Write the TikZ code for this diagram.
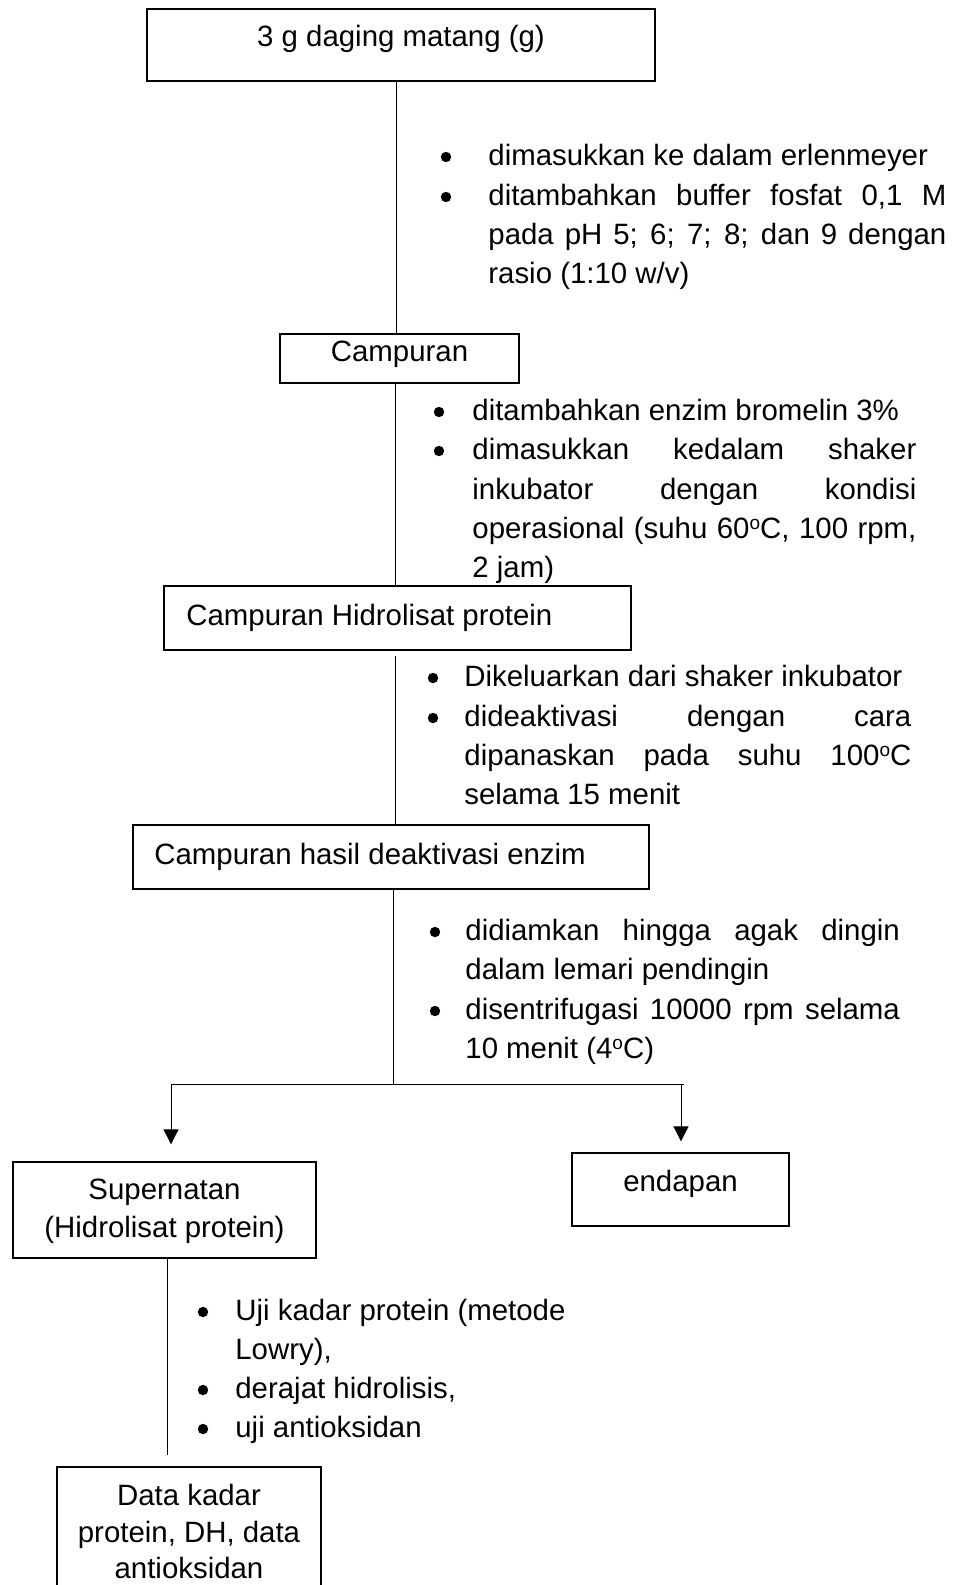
\documentclass[tikz,border=0pt]{standalone}
\usepackage{fontspec}
\setmainfont{Liberation Sans}
\usetikzlibrary{arrows.meta,fit,calc}
% a line stretched to a given width (justified line)
\newcommand{\just}[2]{\makebox[#1][s]{#2}}
% degree sign written as a small raised o
\newcommand{\degc}{\raisebox{4.4pt}{\fontsize{9.5pt}{9.5pt}\selectfont o}C}

\begin{document}
\begin{tikzpicture}[x=0.5pt,y=-0.5pt,
  box/.style={draw,line width=0.7pt,inner sep=0pt},
  txt/.style={inner sep=0pt,anchor=base west,font=\fontsize{14.7pt}{19.6pt}\selectfont},
  ctxt/.style={txt,anchor=base},
  conn/.style={line width=0.5pt},
  arr/.style={conn,-{Triangle[width=7.5pt,length=7.5pt]}},
  dot/.style={fill=black}
]
\path[use as bounding box,fill=white] (0,0) rectangle (956,1585);

% ---------- boxes ----------
\node[box,fit={(147,9) (655,81)}] (b1) {};
\node[box,fit={(280,334) (519,383)}] (b2) {};
\node[box,fit={(164,586) (631,650)}] (b3) {};
\node[box,fit={(133,825) (649,889)}] (b4) {};
\node[box,fit={(13,1162) (316,1258)}] (b5) {};
\node[box,fit={(572,1153) (789,1226)}] (b6) {};
\node[box,fit={(57,1467) (321,1600)}] (b7) {};

% ---------- box labels ----------
\node[ctxt] (t1) at (401,46) {3 g daging matang (g)};
\node[ctxt] (t2) at (399.5,361) {Campuran};
\node[txt] (t3) at (186,625) {Campuran Hidrolisat protein};
\node[txt] (t4) at (154,864) {Campuran hasil deaktivasi enzim};
\node[ctxt] (t5a) at (164.5,1199) {Supernatan};
\node[ctxt] (t5b) at (164.5,1237) {(Hidrolisat protein)};
\node[ctxt] (t6) at (680.5,1191) {endapan};
\node[ctxt] (t7a) at (189,1505) {Data kadar};
\node[ctxt] (t7b) at (189,1542) {protein, DH, data};
\node[ctxt] (t7c) at (189,1578) {antioksidan};

% ---------- connectors ----------
\coordinate (c1) at (396,0);
\coordinate (c2) at (395,0);
\coordinate (c3) at (395,0);
\coordinate (split) at (393,1084);
\coordinate (hl) at (171,1084);
\coordinate (hr) at (684,1084);
\coordinate (ar) at (681,1084);
\coordinate (c5) at (167,0);

\draw[conn] (b1.south -| c1) -- (b2.north -| c1);
\draw[conn] (b2.south -| c2) -- (b3.north -| c2);
\draw[conn] ($(b3.south -| c3)+(0,5)$) -- (b4.north -| c3);
\draw[conn] (b4.south -| split) -- (split);
\draw[conn] (hl) -- (hr);
\draw[arr,shorten >=8.5pt] (hl) -- (b5.north -| hl);
\draw[arr,shorten >=5.5pt] (ar) -- (b6.north -| ar);
\draw[conn] (b5.south -| c5) -- ($(b7.north -| c5)+(0,-11)$);

% ---------- step notes ----------
% after the raw meat
\node[txt] (p1a) at (488,165) {dimasukkan ke dalam erlenmeyer};
\node[txt] (p1b) at (488,205) {\just{229pt}{ditambahkan buffer fosfat 0,1 M}};
\node[txt] (p1c) at (488,244) {\just{229pt}{pada pH 5; 6; 7; 8; dan 9 dengan}};
\node[txt] (p1d) at (488,283) {rasio (1:10 w/v)};
\fill[dot] (446,157) circle[radius=2.6pt];
\fill[dot] (446,197) circle[radius=2.6pt];

% after the mixture
\node[txt] (p2a) at (472,420) {ditambahkan enzim bromelin 3\%};
\node[txt] (p2b) at (472,459) {\just{222pt}{dimasukkan kedalam shaker}};
\node[txt] (p2c) at (472,499) {\just{222pt}{inkubator dengan kondisi}};
\node[txt] (p2d) at (472,538) {\just{222pt}{operasional (suhu 60\degc, 100 rpm,}};
\node[txt] (p2e) at (472,577) {2 jam)};
\fill[dot] (439,412) circle[radius=2.6pt];
\fill[dot] (439,451) circle[radius=2.6pt];

% after hydrolysis
\node[txt] (p3a) at (464,686) {Dikeluarkan dari shaker inkubator};
\node[txt] (p3b) at (464,726) {\just{223.5pt}{dideaktivasi dengan cara}};
\node[txt] (p3c) at (464,765) {\just{223.5pt}{dipanaskan pada suhu 100\degc}};
\node[txt] (p3d) at (464,804) {selama 15 menit};
\fill[dot] (433,678) circle[radius=2.6pt];
\fill[dot] (433,718) circle[radius=2.6pt];

% after enzyme deactivation
\node[txt] (p4a) at (465,940) {\just{217.25pt}{didiamkan hingga agak dingin}};
\node[txt] (p4b) at (465,979) {dalam lemari pendingin};
\node[txt] (p4c) at (465,1019) {\just{217.25pt}{disentrifugasi 10000 rpm selama}};
\node[txt] (p4d) at (465,1058) {10 menit (4\degc)};
\fill[dot] (435,932) circle[radius=2.6pt];
\fill[dot] (435,1011) circle[radius=2.6pt];

% analyses of the supernatant
\node[txt] (p5a) at (235,1320) {Uji kadar protein (metode};
\node[txt] (p5b) at (235,1359) {Lowry),};
\node[txt] (p5c) at (235,1398) {derajat hidrolisis,};
\node[txt] (p5d) at (235,1437) {uji antioksidan};
\fill[dot] (203,1312) circle[radius=2.6pt];
\fill[dot] (203,1390) circle[radius=2.6pt];
\fill[dot] (203,1429) circle[radius=2.6pt];
\end{tikzpicture}
\end{document}
